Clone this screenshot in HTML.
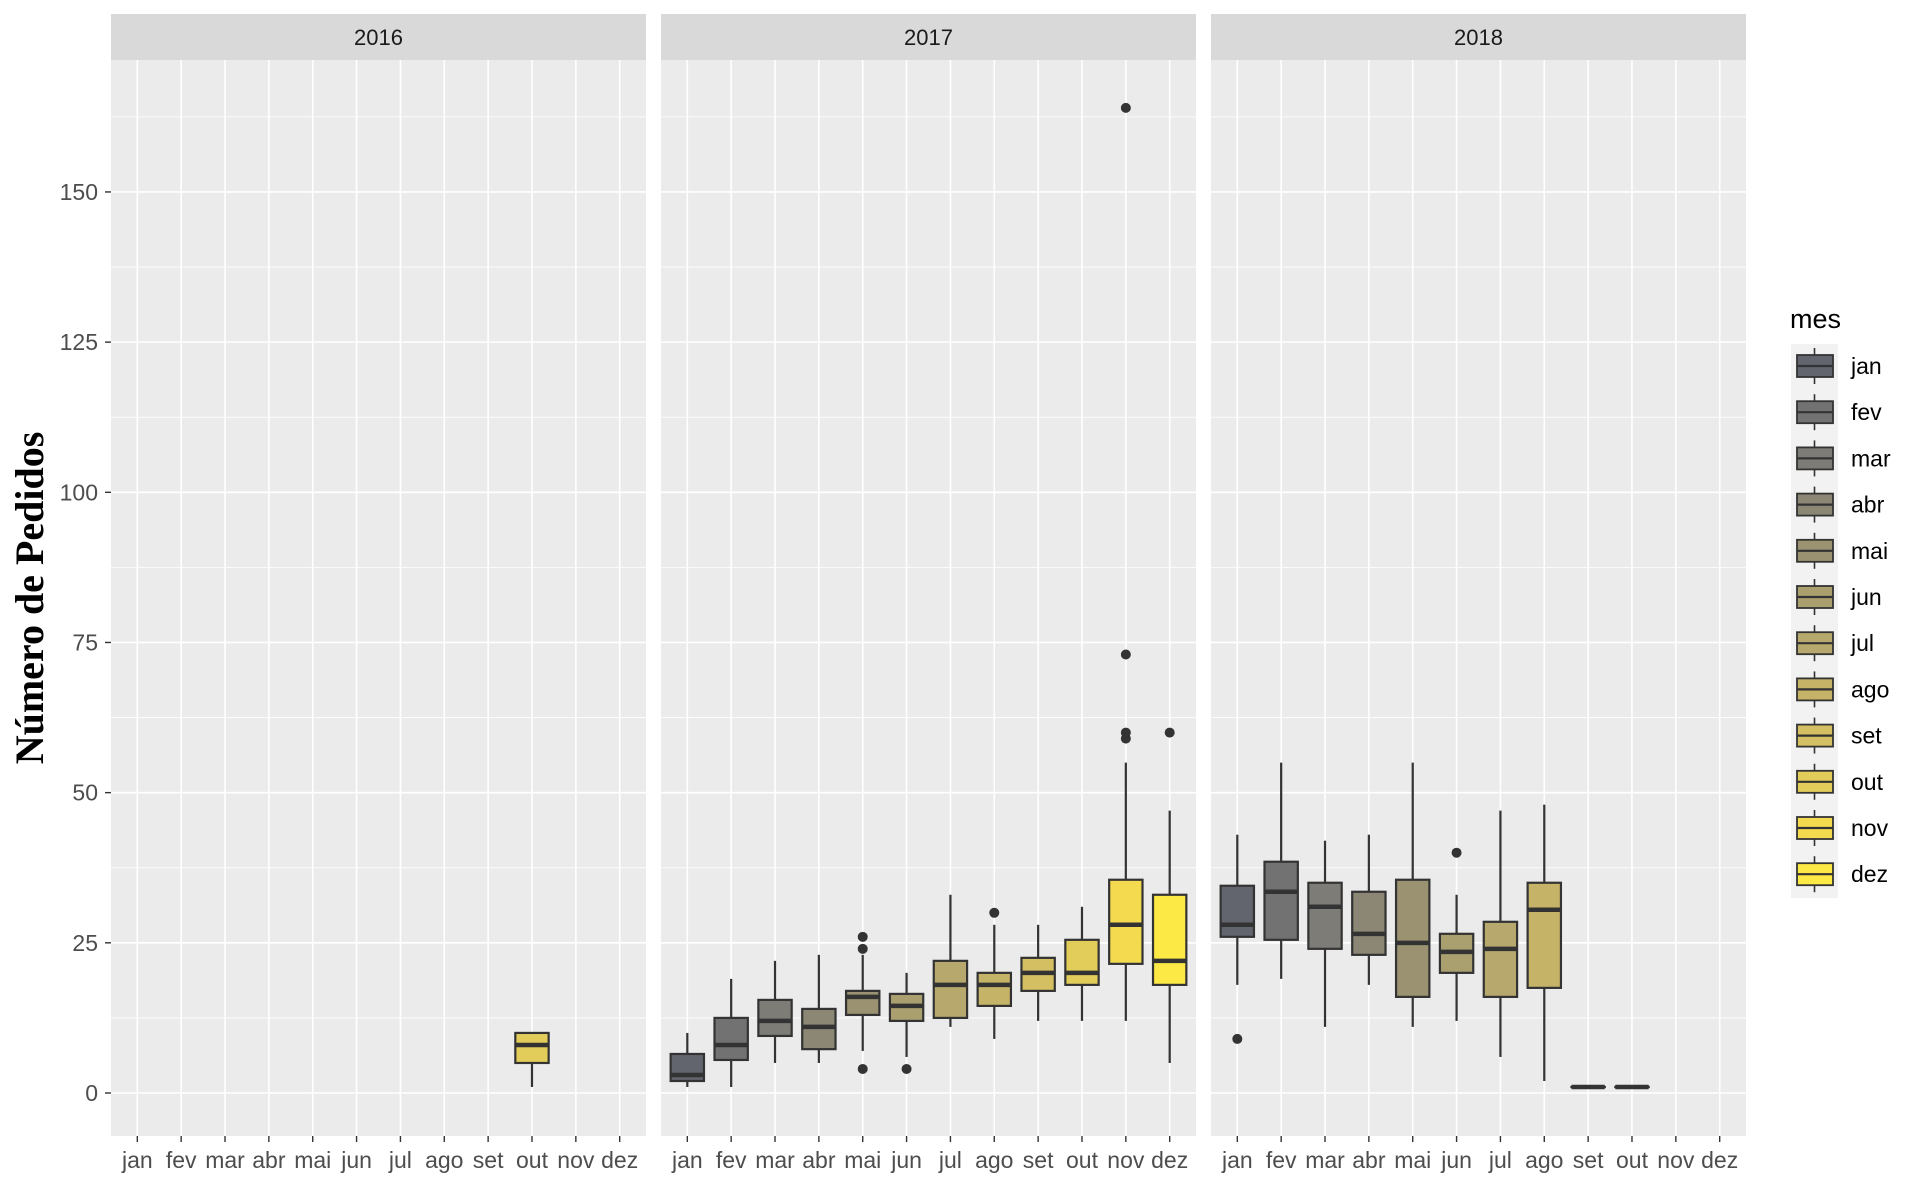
<!DOCTYPE html>
<html><head><meta charset="utf-8"><style>
html,body{margin:0;padding:0;background:#fff;}
svg{display:block;font-family:"Liberation Sans",Arial,sans-serif;}
</style></head><body>
<svg id="chart" width="1920" height="1186" viewBox="0 0 1920 1186"></svg>
<script>
const months = ["jan","fev","mar","abr","mai","jun","jul","ago","set","out","nov","dez"];
const years = ["2016","2017","2018"];
const yTicks = [0,25,50,75,100,125,150];
const fills = ["#63656e","#727272","#7e7c76","#8b8774","#9a9270","#a99f6f","#b7a86e","#c5b368","#d4c063","#e2cd5b","#f3da4f","#fde945"];
// [lo, q1, median, q3, hi] per month; null = no data
const box2016 = [null,null,null,null,null,null,null,null,null,[1,5,8,10,10],null,null];
const box2017 = [[1,2,3,6.5,10],[1,5.5,8,12.5,19],[5,9.5,12,15.5,22],[5,7.3,11,14,23],[7,13,16,17,23],[6,12,14.5,16.5,20],[11,12.5,18,22,33],[9,14.5,18,20,28],[12,17,20,22.5,28],[12,18,20,25.5,31],[12,21.5,28,35.5,55],[5,18,22,33,47]];
const box2018 = [[18,26,28,34.5,43],[19,25.5,33.5,38.5,55],[11,24,31,35,42],[18,23,26.5,33.5,43],[11,16,25,35.5,55],[12,20,23.5,26.5,33],[6,16,24,28.5,47],[2,17.5,30.5,35,48],[1,1,1,1,1],[1,1,1,1,1],null,null];
const out2016 = [[],[],[],[],[],[],[],[],[],[],[],[]];
const out2017 = [[],[],[],[],[4,24,26],[4],[],[30],[],[],[59,60,73,164],[60]];
const out2018 = [[9],[],[],[],[],[40],[],[],[],[],[],[]];
const allBoxes = [box2016,box2017,box2018];
const allOut = [out2016,out2017,out2018];

const NS="http://www.w3.org/2000/svg";
const svg=document.getElementById('chart');
function mk(tag,attrs,parent){const e=document.createElementNS(NS,tag);for(const k in attrs)e.setAttribute(k,attrs[k]);(parent||svg).appendChild(e);return e;}
const panelLefts=[111,661,1211], panelW=535, panelTop=60, panelBot=1136, stripTop=14;
const Y0=1093, PXU=6.007;
function y(v){return Y0-v*PXU;}
function x(left,i){return left+(i+0.6)*(panelW/12.2);}
const bw=(panelW/12.2)*0.76;

years.forEach((yr,p)=>{
  const L=panelLefts[p];
  const g=mk('g',{});
  
  
  const bg=mk('rect',{x:L,y:panelTop,width:panelW,height:panelBot-panelTop,fill:'#ebebeb'},g);
  
  
  const st=mk('rect',{x:L,y:stripTop,width:panelW,height:panelTop-stripTop,fill:'#d9d9d9'},g);
  
  
  const stt=mk('text',{x:L+panelW/2,y:45,'text-anchor':'middle','font-size':22,fill:'#1a1a1a'},g);
  stt.textContent=yr;
  
  
  for(let k=0;k<yTicks.length;k++){
    const mv=yTicks[k]+12.5; const yy=y(mv);
    if(yy>panelTop){const l=mk('line',{x1:L,x2:L+panelW,y1:yy,y2:yy,stroke:'#fff','stroke-width':0.8},g);
    
    }
  }
  yTicks.forEach(t=>{const l=mk('line',{x1:L,x2:L+panelW,y1:y(t),y2:y(t),stroke:'#fff','stroke-width':1.6},g);
    
    });
  months.forEach((m,i)=>{
    const xx=x(L,i);
    const l=mk('line',{x1:xx,x2:xx,y1:panelTop,y2:panelBot,stroke:'#fff','stroke-width':1.6},g);
    
    
    const tk=mk('line',{x1:xx,x2:xx,y1:panelBot,y2:panelBot+6,stroke:'#333','stroke-width':1.4},g);
    
    
    const tl=mk('text',{x:xx,y:1168,'text-anchor':'middle','font-size':23,fill:'#4d4d4d'},g);
    tl.textContent=m;
    
    
  });
  const boxes=allBoxes[p], outs=allOut[p];
  boxes.forEach((b,i)=>{
    if(!b)return;
    const xx=x(L,i);
    const bg2=mk('g',{},g);
    
    
    mk('line',{x1:xx,x2:xx,y1:y(b[3]),y2:y(b[4]),stroke:'#333','stroke-width':2.2},bg2);
    mk('line',{x1:xx,x2:xx,y1:y(b[0]),y2:y(b[1]),stroke:'#333','stroke-width':2.2},bg2);
    mk('rect',{x:xx-bw/2,y:y(b[3]),width:bw,height:Math.max(0.01,y(b[1])-y(b[3])),fill:fills[i],stroke:'#333','stroke-width':2.2},bg2);
    mk('line',{x1:xx-bw/2,x2:xx+bw/2,y1:y(b[2]),y2:y(b[2]),stroke:'#333','stroke-width':4.5},bg2);
    outs[i].forEach(o=>{const c=mk('circle',{cx:xx,cy:y(o),r:5,fill:'#333'},bg2);
      
      });
  });
});
yTicks.forEach(t=>{
  const tk=mk('line',{x1:105,x2:111,y1:y(t),y2:y(t),stroke:'#333','stroke-width':1.4});
  
  
  const tl=mk('text',{x:98,y:y(t)+8,'text-anchor':'end','font-size':23,fill:'#4d4d4d'});
  tl.textContent=t;
  
  
});
const yt=mk('text',{x:0,y:0,transform:'translate(43,598) rotate(-90)','text-anchor':'middle','font-size':40,'font-weight':'bold',fill:'#000','font-family':'"Liberation Serif",serif'});
yt.textContent='Número de Pedidos';


const lg=mk('g',{});


const lt=mk('text',{x:1790,y:328,'font-size':27,fill:'#000'},lg);
lt.textContent='mes';


mk('rect',{x:1791,y:344,width:47,height:554,fill:'#f2f2f2'},lg);
months.forEach((m,i)=>{
  const cy=366+i*46.2;
  const e=mk('g',{},lg);
  
  
  mk('line',{x1:1814.5,x2:1814.5,y1:cy-18,y2:cy+18,stroke:'#333','stroke-width':1.6},e);
  mk('rect',{x:1797,y:cy-11,width:36,height:22,fill:fills[i],stroke:'#333','stroke-width':1.8},e);
  mk('line',{x1:1797,x2:1833,y1:cy,y2:cy,stroke:'#333','stroke-width':2.2},e);
  const t=mk('text',{x:1851,y:cy+8,'font-size':23,fill:'#000'},e);
  t.textContent=m;
});
</script>
</body></html>
